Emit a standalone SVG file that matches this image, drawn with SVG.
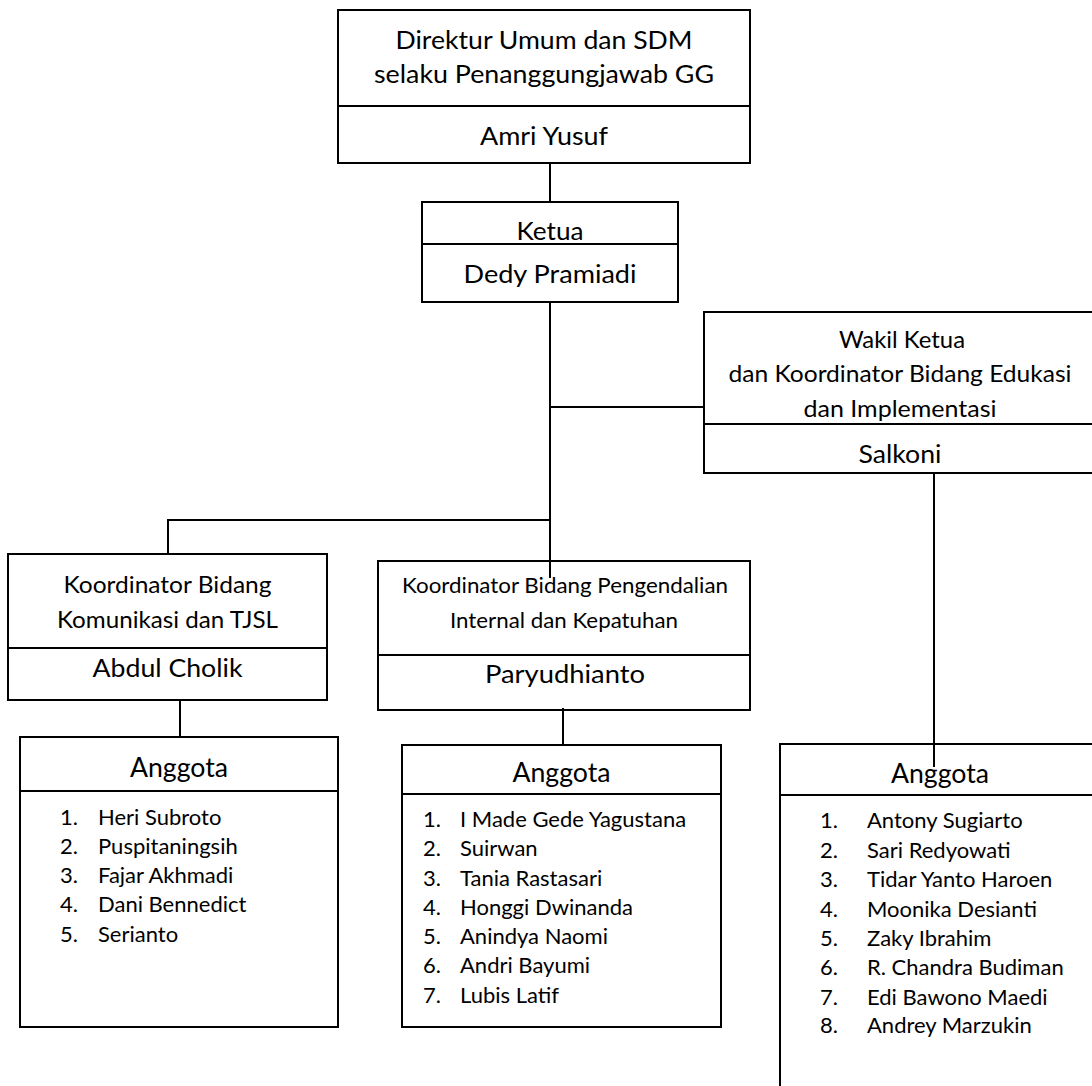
<svg xmlns="http://www.w3.org/2000/svg" width="1092" height="1086" viewBox="0 0 1092 1086">
<style>
.box{fill:#fff;stroke:#000;stroke-width:2}
.div{stroke:#000;stroke-width:2}
.con{fill:none;stroke:#000;stroke-width:2}
text{font-family:Lato,"Open Sans",sans-serif;fill:#000}
.c{text-anchor:middle}
.h{font-size:24.5px}
.w{font-size:22.5px}
.s{font-size:21.5px}
.a{font-size:26px}
.l{font-size:22px}
</style>
<rect width="1092" height="1086" fill="#fff"/>
<g id="top">
<rect class="box" x="338" y="10" width="412" height="153"/>
<line class="div" x1="338" y1="106" x2="750" y2="106"/>
<text class="c h" x="544" y="49" textLength="297" lengthAdjust="spacingAndGlyphs">Direktur Umum dan SDM</text>
<text class="c h" x="544" y="83" textLength="340" lengthAdjust="spacingAndGlyphs">selaku Penanggungjawab GG</text>
<text class="c h" x="544" y="145" textLength="128" lengthAdjust="spacingAndGlyphs">Amri Yusuf</text>
</g>
<g id="ketua">
<rect class="box" x="422" y="202" width="256" height="100"/>
<line class="div" x1="422" y1="244" x2="678" y2="244"/>
<text class="c h" x="550" y="240" textLength="67" lengthAdjust="spacingAndGlyphs">Ketua</text>
<text class="c h" x="550" y="283" textLength="173" lengthAdjust="spacingAndGlyphs">Dedy Pramiadi</text>
</g>
<g id="wakil">
<rect class="box" x="704" y="312" width="394" height="161"/>
<line class="div" x1="704" y1="424" x2="1098" y2="424"/>
<text class="c w" x="902" y="348" textLength="126" lengthAdjust="spacingAndGlyphs">Wakil Ketua</text>
<text class="c w" x="900" y="382" textLength="343" lengthAdjust="spacingAndGlyphs">dan Koordinator Bidang Edukasi</text>
<text class="c w" x="900" y="417" textLength="193" lengthAdjust="spacingAndGlyphs">dan Implementasi</text>
<text class="c h" x="900" y="463" textLength="83" lengthAdjust="spacingAndGlyphs">Salkoni</text>
</g>
<g id="kom">
<rect class="box" x="8" y="554" width="319" height="146"/>
<line class="div" x1="8" y1="648" x2="327" y2="648"/>
<text class="c w" x="167.5" y="593" textLength="208" lengthAdjust="spacingAndGlyphs">Koordinator Bidang</text>
<text class="c w" x="167.5" y="628" textLength="221" lengthAdjust="spacingAndGlyphs">Komunikasi dan TJSL</text>
<text class="c h" x="167.5" y="677" textLength="150" lengthAdjust="spacingAndGlyphs">Abdul Cholik</text>
</g>
<g id="pi">
<rect class="box" x="378" y="561" width="372" height="149"/>
<line class="div" x1="378" y1="655" x2="750" y2="655"/>
<text class="c s" x="565" y="593" textLength="326" lengthAdjust="spacingAndGlyphs">Koordinator Bidang Pengendalian</text>
<text class="c s" x="564" y="628" textLength="228" lengthAdjust="spacingAndGlyphs">Internal dan Kepatuhan</text>
<text class="c h" x="565" y="683" textLength="160" lengthAdjust="spacingAndGlyphs">Paryudhianto</text>
</g>
<g id="connectors">
<path class="con" d="M550,163 V202"/>
<path class="con" d="M550,302 V578"/>
<path class="con" d="M550,407 H704"/>
<path class="con" d="M550,520 H168 V554"/>
<path class="con" d="M180,700 V737"/>
<path class="con" d="M563,708 V745"/>
<path class="con" d="M934,473 V767"/>
</g>
<g id="anggota1">
<rect class="box" x="20" y="737" width="318" height="290"/>
<line class="div" x1="20" y1="791" x2="338" y2="791"/>
<text class="c a" x="179" y="777" textLength="98" lengthAdjust="spacingAndGlyphs">Anggota</text>
<g class="l">
<text x="60" y="825">1.</text><text x="98" y="825">Heri Subroto</text>
<text x="60" y="854">2.</text><text x="98" y="854">Puspitaningsih</text>
<text x="60" y="883">3.</text><text x="98" y="883">Fajar Akhmadi</text>
<text x="60" y="912">4.</text><text x="98" y="912">Dani Bennedict</text>
<text x="60" y="942">5.</text><text x="98" y="942">Serianto</text>
</g>
</g>
<g id="anggota2">
<rect class="box" x="402" y="745" width="319" height="282"/>
<line class="div" x1="402" y1="794" x2="721" y2="794"/>
<text class="c a" x="561.5" y="782" textLength="98" lengthAdjust="spacingAndGlyphs">Anggota</text>
<g class="l">
<text x="423" y="827">1.</text><text x="460" y="827">I Made Gede Yagustana</text>
<text x="423" y="856">2.</text><text x="460" y="856">Suirwan</text>
<text x="423" y="886">3.</text><text x="460" y="886">Tania Rastasari</text>
<text x="423" y="915">4.</text><text x="460" y="915">Honggi Dwinanda</text>
<text x="423" y="944">5.</text><text x="460" y="944">Anindya Naomi</text>
<text x="423" y="973">6.</text><text x="460" y="973">Andri Bayumi</text>
<text x="423" y="1003">7.</text><text x="460" y="1003">Lubis Latif</text>
</g>
</g>
<g id="anggota3">
<rect class="box" x="780" y="744" width="330" height="400"/>
<line class="div" x1="780" y1="795" x2="1110" y2="795"/>
<path class="con" d="M934,744 V767"/>
<text class="c a" x="940" y="783" textLength="98" lengthAdjust="spacingAndGlyphs">Anggota</text>
<g class="l">
<text x="820" y="828">1.</text><text x="867" y="828">Antony Sugiarto</text>
<text x="820" y="858">2.</text><text x="867" y="858">Sari Redyowati</text>
<text x="820" y="887">3.</text><text x="867" y="887">Tidar Yanto Haroen</text>
<text x="820" y="917">4.</text><text x="867" y="917">Moonika Desianti</text>
<text x="820" y="946">5.</text><text x="867" y="946">Zaky Ibrahim</text>
<text x="820" y="975">6.</text><text x="867" y="975">R. Chandra Budiman</text>
<text x="820" y="1005">7.</text><text x="867" y="1005">Edi Bawono Maedi</text>
<text x="820" y="1033">8.</text><text x="867" y="1033">Andrey Marzukin</text>
</g>
</g>
</svg>
